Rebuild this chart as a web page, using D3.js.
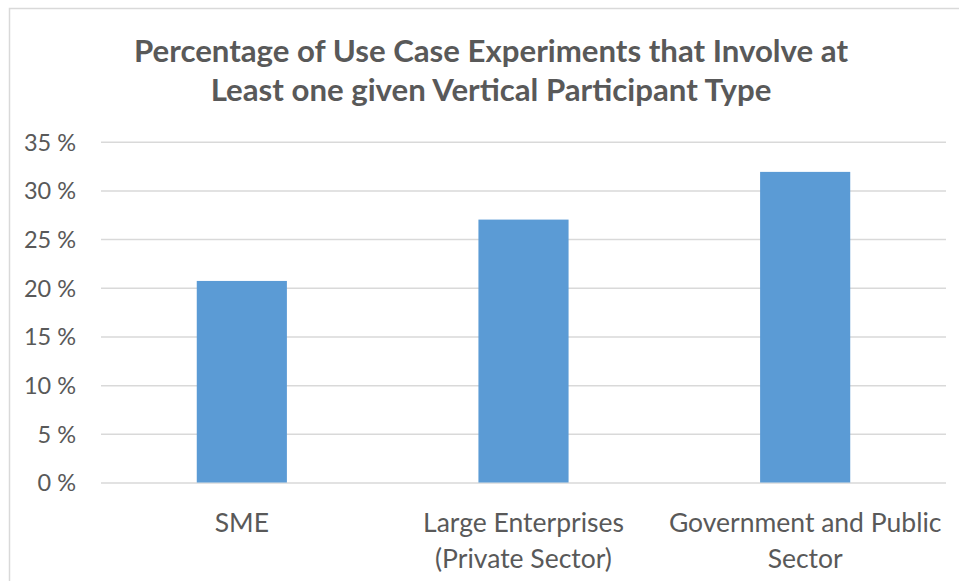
<!DOCTYPE html>
<html>
<head>
<meta charset="utf-8">
<script src="https://cdn.jsdelivr.net/npm/d3@7"></script>
<style>
  html, body { margin: 0; padding: 0; background: #ffffff; }
  svg { display: block; }
  text { font-family: Lato, "Open Sans", sans-serif; }
</style>
</head>
<body>
<div id="chart"></div>
<script>
const titleLines = ["Percentage of Use Case Experiments that Involve at", "Least one given Vertical Participant Type"];
const categories = ["SME", "Large Enterprises (Private Sector)", "Government and Public Sector"];
const categoryLines = [["SME"], ["Large Enterprises", "(Private Sector)"], ["Government and Public", "Sector"]];
const values = [20.7, 27.0, 31.9];
const yTicks = [0, 5, 10, 15, 20, 25, 30, 35];

const W = 959, H = 581;
const margin = { left: 101, right: 13, top: 141.7, bottom: 98.5 };
const svg = d3.select("#chart").append("svg").attr("width", W).attr("height", H);

// chart frame
svg.append("rect")
  .attr("x", 9.5).attr("y", 8.5)
  .attr("width", W + 20).attr("height", H + 20)
  .attr("fill", "#ffffff").attr("stroke", "#d9d9d9").attr("stroke-width", 1.5);

const x = d3.scaleBand().domain(categories)
  .range([margin.left, W - margin.right])
  .paddingInner(0.68).paddingOuter(0.34);
const y = d3.scaleLinear().domain([0, 35]).range([H - margin.bottom, margin.top]);

// gridlines
const yAxis = d3.axisLeft(y).tickValues(yTicks).tickSize(-(W - margin.right - margin.left))
  .tickFormat(d => d + " %").tickPadding(25);
const gy = svg.append("g").attr("transform", `translate(${margin.left},0)`).call(yAxis);
gy.select(".domain").remove();
gy.selectAll(".tick line").attr("stroke", "#d9d9d9").attr("stroke-width", 1.5);
gy.selectAll(".tick text").attr("fill", "#595959").attr("font-size", 23.5).attr("dy", "0.36em");

// bars
svg.append("g").selectAll("rect").data(values).join("rect")
  .attr("x", (d, i) => x(categories[i]))
  .attr("width", x.bandwidth())
  .attr("y", d => y(d))
  .attr("height", d => y(0) - y(d))
  .attr("fill", "#5b9bd5");

// category labels
const gx = svg.append("g");
categoryLines.forEach((lines, i) => {
  const cx = x(categories[i]) + x.bandwidth() / 2;
  const t = gx.append("text").attr("text-anchor", "middle").attr("fill", "#595959").attr("font-size", 26.5);
  lines.forEach((ln, j) => {
    t.append("tspan").attr("x", cx).attr("y", 532 + j * 35.5).text(ln);
  });
});

// title
const tt = svg.append("text").attr("text-anchor", "middle").attr("fill", "#595959")
  .attr("font-size", 31.2).attr("font-weight", "bold");
titleLines.forEach((ln, j) => {
  tt.append("tspan").attr("x", 491).attr("y", 62 + j * 38.5).text(ln);
});
</script>
</body>
</html>
